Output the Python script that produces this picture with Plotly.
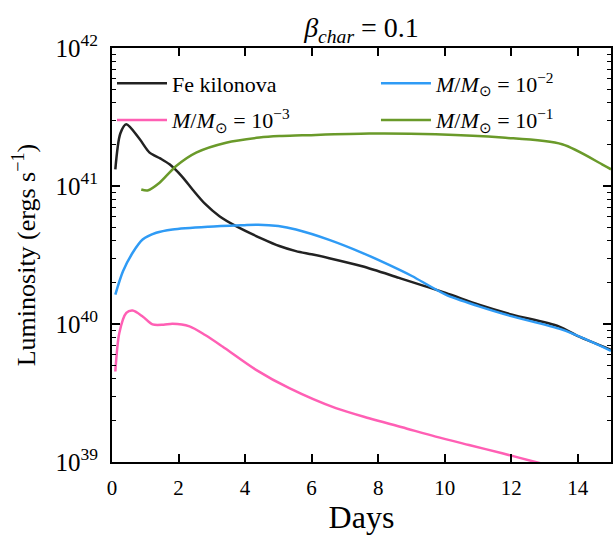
import numpy as np
import plotly.graph_objects as go

# Light curves: days since merger vs log10 luminosity (erg/s)
days_fe = [0.10, 0.25, 0.43, 0.83, 1.13, 1.45, 1.73, 2.1, 2.42, 2.8, 3.23, 3.73, 4.52,
           5.03, 5.53, 6.0, 6.53, 7.52, 8.63, 10.03, 11.03, 12.03, 13.43, 14.03, 15.0]
logL_fe = [41.12, 41.38, 41.447, 41.34, 41.242, 41.2, 41.157, 41.07, 40.975, 40.87,
           40.781, 40.709, 40.617, 40.565, 40.528, 40.505, 40.477, 40.418, 40.334,
           40.225, 40.14, 40.068, 39.983, 39.91, 39.813]

days_m3 = [0.10, 0.22, 0.43, 0.62, 0.92, 1.22, 1.55, 1.82, 2.33, 2.8, 3.32, 4.33, 5.33,
           6.73, 7.73, 8.72, 9.73, 10.73, 11.73, 12.73, 13.73, 15.0]
logL_m3 = [39.656, 39.935, 40.08, 40.097, 40.055, 39.997, 39.995, 40.002, 39.983,
           39.92, 39.837, 39.668, 39.535, 39.39, 39.317, 39.252, 39.184, 39.123,
           39.063, 39.0, 38.94, 38.86]

days_m2 = [0.10, 0.33, 0.62, 0.92, 1.33, 1.82, 2.9, 3.92, 4.4, 5.0, 5.53, 6.53, 7.52,
           8.63, 9.03, 10.03, 11.03, 12.03, 13.53, 15.0]
logL_m2 = [40.213, 40.382, 40.516, 40.612, 40.661, 40.685, 40.705, 40.716, 40.72,
           40.71, 40.685, 40.61, 40.516, 40.394, 40.346, 40.213, 40.128, 40.055,
           39.959, 39.806]

days_m1 = [0.88, 1.07, 1.43, 1.93, 2.53, 3.43, 4.43, 5.03, 5.72, 7.73, 9.73, 11.73,
           13.53, 14.73, 15.0]
logL_m1 = [40.975, 40.968, 41.024, 41.145, 41.242, 41.314, 41.351, 41.362, 41.367,
           41.38, 41.375, 41.351, 41.302, 41.157, 41.121]

MSUN = "<i>M</i>/<i>M</i><sub>⊙</sub>"
series = [
    ("Fe kilonova", days_fe, logL_fe, "#222222", "legend"),
    (MSUN + " = 10<sup>−3</sup>", days_m3, logL_m3, "#ff5fb4", "legend"),
    (MSUN + " = 10<sup>−2</sup>", days_m2, logL_m2, "#2f9bf5", "legend2"),
    (MSUN + " = 10<sup>−1</sup>", days_m1, logL_m1, "#6a9a2a", "legend2"),
]

FONT = "Liberation Serif"

fig = go.Figure()
for name, d, logL, color, leg in series:
    fig.add_trace(go.Scatter(
        x=d, y=10 ** np.array(logL), mode="lines", name=name,
        line=dict(color=color, width=2.5, shape="spline", smoothing=0.8),
        legend=leg, legendgroup=name,
    ))

axis_common = dict(
    showline=True, linecolor="black", linewidth=2, mirror="ticks",
    ticks="inside", ticklen=8, tickwidth=1.5, tickcolor="black",
    showgrid=False, zeroline=False,
)

legend_common = dict(
    orientation="v", bgcolor="rgba(0,0,0,0)", borderwidth=0,
    font=dict(family=FONT, size=22, color="black"),
    itemwidth=50, tracegroupgap=5, yanchor="top", xanchor="left",
)

fig.update_layout(
    width=613, height=535,
    margin=dict(l=112, r=0, t=48, b=73),
    plot_bgcolor="white", paper_bgcolor="white",
    font=dict(family=FONT, color="black"),
    title=dict(text="<i>β</i><sub><i>char</i></sub> = 0.1", x=0.5, xref="paper",
               y=1 - 27 / 535, yref="container", yanchor="middle", xanchor="center",
               font=dict(family=FONT, size=28, color="black")),
    xaxis=dict(range=[0, 15], tick0=0, dtick=2, ticklabelstandoff=6,
               tickfont=dict(family=FONT, size=21, color="black"),
               title=dict(text="Days", font=dict(family=FONT, size=32), standoff=2),
               **axis_common),
    yaxis=dict(type="log", range=[39, 42], dtick=1, exponentformat="power",
               ticklabelstandoff=8,
               tickfont=dict(family=FONT, size=20, color="black"),
               minor=dict(ticks="inside", ticklen=4, tickwidth=1, tickcolor="black", dtick="D1"),
               title=dict(text="Luminosity (ergs s<sup>−1</sup>)",
                          font=dict(family=FONT, size=26), standoff=12),
               **axis_common),
    legend=dict(x=0.0, y=0.965, **legend_common),
    legend2=dict(x=0.529, y=0.965, **legend_common),
)

fig.write_html("out.html")
